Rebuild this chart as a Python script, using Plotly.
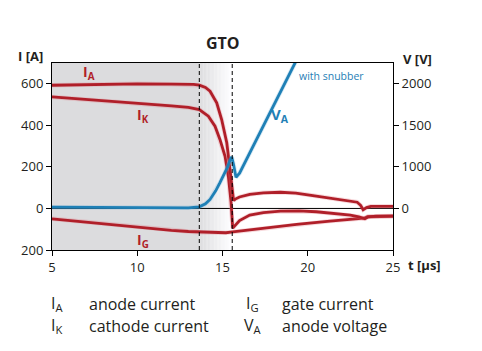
import plotly.graph_objects as go

# ---------------- data ----------------
t_ia = [5, 7, 10, 12, 13.3, 13.64, 14.0, 14.27, 14.66, 14.95, 15.25, 15.4, 15.46, 15.55, 15.65,
        15.75, 16.0, 16.6, 17.4, 18.4, 19.3, 20.3, 21.3, 22.3, 22.9, 23.1, 23.25, 23.45, 23.7, 25]
ia = [593, 596, 600, 598, 597, 593, 582, 564, 508, 428, 316, 215, 171, 110, 38,
      45, 55, 68, 75, 78, 74, 62, 50, 40, 30, 15, -6, 4, 10, 10]

t_ik = [5, 7, 9, 10, 12, 13, 13.64, 14.17, 14.56, 14.85, 15.15, 15.35, 15.5, 15.6,
        15.75, 16.0, 16.6, 17.4, 18.4, 19.5, 20.5, 21.5, 22.5, 23.0, 23.35, 23.55, 24, 25]
ik = [537, 525, 514, 508, 494, 486, 476, 444, 396, 332, 251, 150, 30, -95,
      -80, -58, -32, -20, -13, -12, -16, -24, -32, -40, -50, -40, -37, -36]

t_ig = [5, 6, 7, 8, 9, 10, 11, 12, 13, 13.7, 14.5, 15.2, 15.6, 16.5, 17.5, 19.35, 21.3, 23.3, 23.5, 25]
ig = [-50, -58, -66, -75, -83, -92, -99, -106, -111, -114, -116, -117, -113, -104, -95, -77, -61, -47, -40, -38]

t_va = [5, 8, 11, 13, 13.64, 14.0, 14.27, 14.6, 14.85, 15.1, 15.3, 15.45, 15.54, 15.65, 15.79, 16.0, 19.25, 19.5]
va = [515, 512, 505, 508, 520, 555, 608, 712, 810, 912, 1000, 1088, 1120, 1025, 875, 925, 2250, 2350]

t_markers = [13.64, 15.57]          # turn-off interval (dashed lines)
x_ticks = [5, 10, 15, 20, 25]
yl_ticks = [-200, 0, 200, 400, 600]
yl_text = ["200", "0", "200", "400", "600"]
yr_ticks = [500, 1000, 1500, 2000]
yr_text = ["0", "1000", "1500", "2000"]

RED = "#b01f29"
BLUE = "#1f80b6"
HALO_R = "rgba(225,120,130,0.28)"
HALO_B = "rgba(120,180,220,0.28)"
TXT = "#231f20"
FONT = "Open Sans"

fig = go.Figure()

for tt, yy in [(t_ig, ig), (t_ik, ik), (t_ia, ia)]:
    fig.add_trace(go.Scatter(x=tt, y=yy, mode="lines", line=dict(color=HALO_R, width=4.5),
                             hoverinfo="skip", showlegend=False))
    fig.add_trace(go.Scatter(x=tt, y=yy, mode="lines", line=dict(color=RED, width=2.8),
                             showlegend=False))
fig.add_trace(go.Scatter(x=t_va, y=va, yaxis="y2", mode="lines", line=dict(color=HALO_B, width=4.5),
                         hoverinfo="skip", showlegend=False))
fig.add_trace(go.Scatter(x=t_va, y=va, yaxis="y2", mode="lines", line=dict(color=BLUE, width=2.8),
                         showlegend=False))

shapes = []
# gray region + gradient to white
g = 220
shapes.append(dict(type="rect", xref="x", yref="paper", x0=5, x1=t_markers[0], y0=0, y1=1,
                   fillcolor=f"rgb({g},{g},{g+2})", line=dict(width=0), layer="below"))
n = 24
span = t_markers[1] - t_markers[0]
for i in range(n):
    f = (i + 0.5) / n
    c = int(round(g + (255 - g) * f))
    shapes.append(dict(type="rect", xref="x", yref="paper",
                       x0=t_markers[0] + span * i / n, x1=t_markers[0] + span * (i + 1) / n + 0.01,
                       y0=0, y1=1, fillcolor=f"rgb({c},{c},{min(255, c + 2)})",
                       line=dict(width=0), layer="below"))
# zero line
shapes.append(dict(type="line", xref="paper", yref="y", x0=0, x1=1, y0=0, y1=0,
                   line=dict(color="black", width=1), layer="below"))
for tm in t_markers:
    shapes.append(dict(type="line", xref="x", yref="paper", x0=tm, x1=tm, y0=0, y1=1,
                       line=dict(color="black", width=1, dash="4px,3px")))

ann = []
def a(text, x, y, xref="x", yref="y", size=13, color=TXT, xanchor="center", bold=False):
    ann.append(dict(text=f"<b>{text}</b>" if bold else text, x=x, y=y, xref=xref, yref=yref,
                    showarrow=False, xanchor=xanchor, yanchor="middle",
                    font=dict(family=FONT, size=size, color=color)))

a("I<sub>A</sub>", 7.15, 655, size=14, color=RED, bold=True)
a("I<sub>K</sub>", 10.35, 448, size=14, color=RED, bold=True)
a("I<sub>G</sub>", 10.35, -152, size=14, color=RED, bold=True)
a("V<sub>A</sub>", 18.4, 1630, yref="y2", size=15, color=BLUE, bold=True)
a("with snubber", 19.35, 2090, yref="y2", size=10.5, color=BLUE, xanchor="left")

# axis titles (pixel -> paper)
def px(xp): return (xp - 52) / 341
def py(yp): return (250 - yp) / 187
a("GTO", px(223), py(43), "paper", "paper", size=16, bold=True)
a("I [A]", px(30), py(56), "paper", "paper", size=13, bold=True)
a("V [V]", px(417), py(59), "paper", "paper", size=13, bold=True)
a("t [µs]", px(406), py(265), "paper", "paper", size=13, bold=True, xanchor="left")

# bottom legend
a("I<sub>A</sub>", px(49), py(303), "paper", "paper", size=16, xanchor="left")
a("anode current", px(87), py(304), "paper", "paper", size=16, xanchor="left")
a("I<sub>K</sub>", px(49), py(325), "paper", "paper", size=16, xanchor="left")
a("cathode current", px(87), py(326), "paper", "paper", size=16, xanchor="left")
a("I<sub>G</sub>", px(244), py(303), "paper", "paper", size=16, xanchor="left")
a("gate current", px(280), py(304), "paper", "paper", size=16, xanchor="left")
a("V<sub>A</sub>", px(242), py(325), "paper", "paper", size=16, xanchor="left")
a("anode voltage", px(280), py(326), "paper", "paper", size=16, xanchor="left")

axfont = dict(family=FONT, size=13, color=TXT)
fig.update_layout(
    width=482, height=351, margin=dict(l=52, r=89, t=63, b=101),
    paper_bgcolor="white", plot_bgcolor="white", showlegend=False,
    shapes=shapes, annotations=ann,
    xaxis=dict(range=[5, 25], tickvals=x_ticks, ticks="outside", ticklen=5, tickcolor="black",
               showline=True, linecolor="black", linewidth=1, mirror=True, showgrid=False,
               zeroline=False, tickfont=axfont),
    yaxis=dict(range=[-200, 700], tickvals=yl_ticks, ticktext=yl_text, ticks="outside", ticklen=5,
               tickcolor="black", showline=True, linecolor="black", linewidth=1, mirror=True,
               showgrid=False, zeroline=False, tickfont=axfont),
    yaxis2=dict(range=[0, 2250], overlaying="y", side="right", tickvals=yr_ticks, ticktext=yr_text,
                ticks="outside", ticklen=5, tickcolor="black", showline=True, linecolor="black",
                linewidth=1, showgrid=False, zeroline=False, tickfont=axfont),
)

fig.write_html("out.html")
